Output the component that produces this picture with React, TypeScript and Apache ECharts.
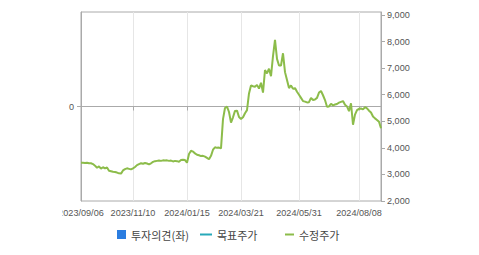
import React, { useEffect, useRef } from "react";
import * as echarts from "echarts";

const seriesNames = ["투자의견(좌)", "목표주가", "수정주가"];
const seriesColors = ["#2b7de0", "#27a9b9", "#8cbc4a"];

const tickLabels = ["2023/09/06", "2023/11/10", "2024/01/15", "2024/03/21", "2024/05/31", "2024/08/08"];
const tickIndex = [0, 26, 53, 80, 109, 139];

const rightTicks = [2000, 3000, 4000, 5000, 6000, 7000, 8000, 9000];
const leftTicks = [0];

const price = [
  3440, 3440, 3430, 3440, 3420, 3420, 3390, 3330, 3250, 3300,
  3220, 3270, 3230, 3260, 3140, 3120, 3100, 3090, 3070, 3040,
  3030, 3150, 3200, 3230, 3210, 3190, 3230, 3280, 3350, 3390,
  3420, 3400, 3430, 3410, 3380, 3420, 3470, 3500, 3510, 3520,
  3510, 3530, 3520, 3530, 3510, 3520, 3490, 3510, 3500, 3480,
  3540, 3550, 3540, 3440, 3770, 3890, 3860, 3790, 3740, 3720,
  3690, 3700, 3670, 3620, 3570, 3700, 3930, 4020, 4000, 4010,
  3980, 5080, 5500, 5550, 5350, 4950, 5150, 5390, 5400, 5160,
  5090, 5150, 5300, 5420, 6050, 6350, 6320, 6300, 6370, 6230,
  6450, 6080, 6930, 6800, 6980, 6700, 7450, 8060, 7350, 7100,
  7100, 7560, 6850, 6550, 6250, 6350, 6220, 6250, 6110, 6000,
  5880, 5760, 5740, 5710, 5720, 5880, 5800, 5820, 5880, 6080,
  6140, 5980, 5800, 5550, 5560, 5660, 5600, 5630, 5650, 5700,
  5730, 5760, 5620, 5560, 5380, 5680, 4870, 5250, 5420, 5470,
  5480, 5450, 5530, 5490, 5400, 5330, 5180, 5110, 5050, 4980,
  4740,
];

const categories = price.map((_, i) => {
  const k = tickIndex.indexOf(i);
  return k >= 0 ? tickLabels[k] : "d" + i;
});

const isTick = (i: number) => tickIndex.indexOf(i) >= 0;

export default function App() {
  const ref = useRef<HTMLDivElement>(null);
  useEffect(() => {
    if (!ref.current) return;
    const chart = echarts.init(ref.current, null, { renderer: "svg" });
    const axisFont = { fontFamily: "Liberation Sans", fontSize: 9.1, color: "#555" };
    const legendText = { fontFamily: "Noto Sans CJK KR", fontSize: 11, color: "#444" };
    chart.setOption({
      animation: false,
      backgroundColor: "#fff",
      grid: {
        left: 81,
        right: 98,
        top: 12,
        bottom: 54,
        show: true,
        borderColor: "#aaa",
        borderWidth: 1,
        backgroundColor: "transparent",
      },
      legend: [
        {
          data: [{ name: seriesNames[0], icon: "rect" }],
          left: 117, top: 229, padding: 0, itemWidth: 9, itemHeight: 9,
          textStyle: legendText,
        },
        {
          data: [{ name: seriesNames[1], icon: "rect" }],
          left: 200, top: 229, padding: 0, itemWidth: 12, itemHeight: 2,
          textStyle: legendText,
        },
        {
          data: [{ name: seriesNames[2], icon: "rect" }],
          left: 285, top: 229, padding: 0, itemWidth: 9, itemHeight: 2,
          textStyle: legendText,
        },
      ],
      xAxis: {
        type: "category",
        data: categories,
        boundaryGap: false,
        axisLine: { show: true, lineStyle: { color: "#aaa" } },
        axisTick: { show: true, length: 4, interval: (i: number) => isTick(i), lineStyle: { color: "#aaa" } },
        axisLabel: { ...axisFont, margin: 7, interval: (i: number) => isTick(i) },
        splitLine: { show: true, interval: (i: number) => isTick(i), lineStyle: { color: "#e6e6e6" } },
      },
      yAxis: [
        {
          type: "value",
          position: "left",
          min: -1,
          max: 1,
          axisLine: { show: true, lineStyle: { color: "#aaa" } },
          axisTick: { show: true, length: 4, customValues: leftTicks, lineStyle: { color: "#aaa" } },
          axisLabel: { ...axisFont, margin: 7, customValues: leftTicks },
          splitLine: { show: true, lineStyle: { color: "#e6e6e6" } },
        },
        {
          type: "value",
          position: "right",
          min: 2000,
          max: 9113,
          axisLine: { show: true, lineStyle: { color: "#aaa" } },
          axisTick: { show: true, length: 4, customValues: rightTicks, lineStyle: { color: "#aaa" } },
          axisLabel: {
            ...axisFont,
            margin: 6,
            customValues: rightTicks,
            formatter: (v: number) => v.toLocaleString("en-US"),
          },
          splitLine: { show: false },
        },
      ],
      series: [
        { name: seriesNames[0], type: "bar", yAxisIndex: 0, data: [], itemStyle: { color: seriesColors[0] } },
        {
          name: seriesNames[1], type: "line", yAxisIndex: 1, data: [],
          itemStyle: { color: seriesColors[1] }, lineStyle: { color: seriesColors[1] },
        },
        {
          name: seriesNames[2], type: "line", yAxisIndex: 1, data: price,
          showSymbol: false, symbol: "none",
          itemStyle: { color: seriesColors[2] },
          lineStyle: { color: seriesColors[2], width: 2 },
        },
      ],
      graphic: [
        {
          type: "rect", z: 100, silent: true,
          shape: { x: 0, y: 204, width: 62.5, height: 18 },
          style: { fill: "#fff" },
        },
      ],
    });
    return () => chart.dispose();
  }, []);
  return <div ref={ref} style={{ width: 479, height: 255, position: "absolute", left: 0, top: 0 }} />;
}
